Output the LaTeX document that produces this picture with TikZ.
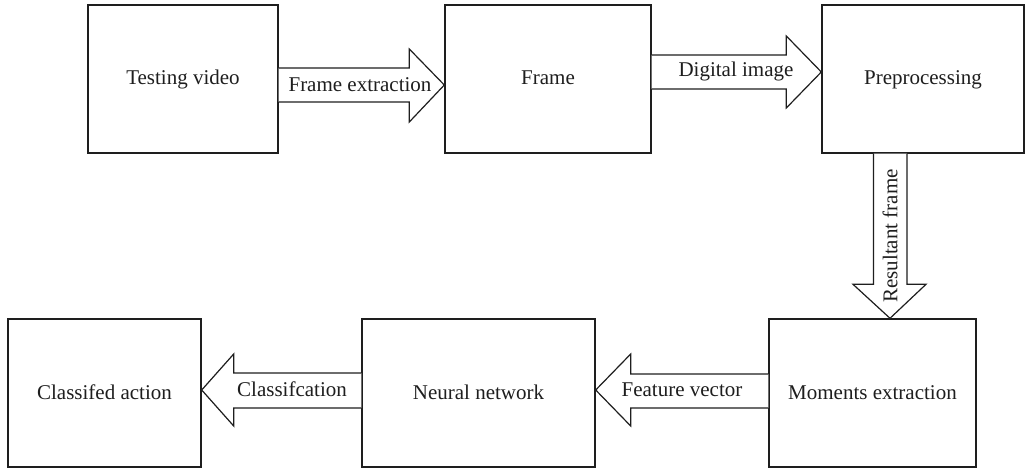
\documentclass[tikz,border=0pt]{standalone}
\usepackage{fontspec}
\setmainfont{Liberation Serif}
\usetikzlibrary{calc}
\definecolor{ink}{HTML}{1E1E1E}
\tikzset{
  box/.style={draw=ink, line width=1.4pt, fill=white, rectangle, inner sep=0pt,
    font=\fontsize{21}{25}\selectfont, text=ink, text height=15pt, text depth=3pt},
  fatarrow/.style={draw=ink, line width=1.2pt, fill=white, line join=miter},
  lbl/.style={font=\fontsize{21}{25}\selectfont, text=ink, inner sep=0pt}
}
\begin{document}
\begin{tikzpicture}[x=1pt,y=-1pt]
\useasboundingbox (0,0) rectangle (1025,470);
% boxes
\node[box, minimum width=190pt, minimum height=148pt] (tv) at (183,79) {Testing video};
\node[box, minimum width=206pt, minimum height=148pt] (fr) at (548,79) {Frame};
\node[box, minimum width=202pt, minimum height=148pt] (pp) at (923,79) {Preprocessing};
\node[box, minimum width=207pt, minimum height=148pt] (me) at (872.5,393) {Moments extraction};
\node[box, minimum width=233pt, minimum height=148pt] (nn) at (478.5,393) {Neural network};
\node[box, minimum width=193pt, minimum height=148pt] (ca) at (104.5,393) {Classifed action};
% arrow 1: tv -> fr
\coordinate (a1s) at ($(tv.east)+(0,6)$);
\coordinate (a1t) at ($(fr.west)+(0,6)$);
\draw[fatarrow] ($(a1s)+(0,-17)$) -- ($(a1t)+(-35,-17)$) -- ($(a1t)+(-35,-36)$) -- (a1t)
  -- ($(a1t)+(-35,37)$) -- ($(a1t)+(-35,17)$) -- ($(a1s)+(0,17)$);
% arrow 2: fr -> pp
\coordinate (a2s) at ($(fr.east)+(0,-7)$);
\coordinate (a2t) at ($(pp.west)+(0,-7)$);
\draw[fatarrow] ($(a2s)+(0,-17)$) -- ($(a2t)+(-35,-17)$) -- ($(a2t)+(-35,-36)$) -- (a2t)
  -- ($(a2t)+(-35,36)$) -- ($(a2t)+(-35,17)$) -- ($(a2s)+(0,17)$);
% arrow 3: pp -> me (vertical)
\coordinate (a3s) at ($(pp.south)+(-33,0)$);
\coordinate (a3t) at ($(me.north)+(17.5,0)$);
\draw[fatarrow] ($(a3s)+(-16.5,0)$) -- ($(a3t)+(-16.5,-34)$) -- ($(a3t)+(-37,-34)$) -- (a3t)
  -- ($(a3t)+(36,-34)$) -- ($(a3t)+(17,-34)$) -- ($(a3s)+(17,0)$);
% arrow 4: me -> nn
\coordinate (a4s) at ($(me.west)+(0,-3)$);
\coordinate (a4t) at ($(nn.east)+(0,-3)$);
\draw[fatarrow] ($(a4s)+(0,-16)$) -- ($(a4t)+(35,-16)$) -- ($(a4t)+(35,-36)$) -- (a4t)
  -- ($(a4t)+(35,36)$) -- ($(a4t)+(35,18)$) -- ($(a4s)+(0,18)$);
% arrow 5: nn -> ca
\coordinate (a5s) at ($(nn.west)+(0,-3)$);
\coordinate (a5t) at ($(ca.east)+(0,-3)$);
\draw[fatarrow] ($(a5s)+(0,-17)$) -- ($(a5t)+(32,-17)$) -- ($(a5t)+(32,-36)$) -- (a5t)
  -- ($(a5t)+(32,36)$) -- ($(a5t)+(32,18)$) -- ($(a5s)+(0,18)$);
% labels
\node[lbl, anchor=base] (l1) at (360,92) {Frame extraction};
\node[lbl, anchor=base] (l2) at (736,77) {Digital image};
\node[lbl, rotate=90] (l3) at (890,236) {Resultant frame};
\node[lbl, anchor=base] (l4) at (682,396) {Feature vector};
\node[lbl, anchor=base] (l5) at (292,396) {Classifcation};
\end{tikzpicture}
\end{document}
